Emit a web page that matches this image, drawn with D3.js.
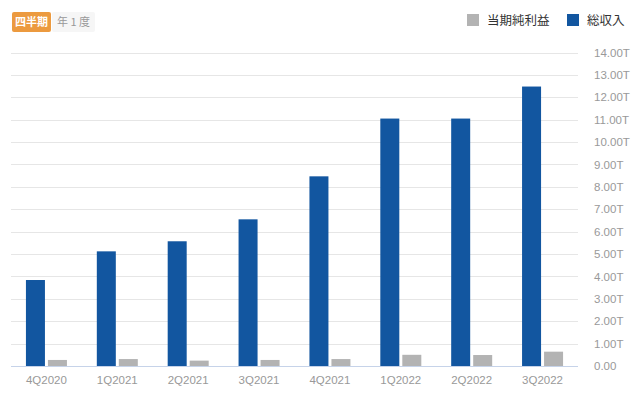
<!DOCTYPE html>
<html><head><meta charset="utf-8">
<script src="https://cdn.jsdelivr.net/npm/d3@7/dist/d3.min.js"></script>
<style>
body{margin:0;background:#fff;font-family:"Liberation Sans",Arial,"Noto Sans CJK JP",sans-serif;}
</style></head>
<body><svg id="c" width="640" height="402"></svg>
<script>
const categories = ["4Q2020","1Q2021","2Q2021","3Q2021","4Q2021","1Q2022","2Q2022","3Q2022"];
const revenue = [3.84, 5.12, 5.57, 6.55, 8.47, 11.05, 11.05, 12.48];
const netIncome = [0.27, 0.31, 0.24, 0.27, 0.31, 0.50, 0.49, 0.64];
const yTicks = [0,1,2,3,4,5,6,7,8,9,10,11,12,13,14];
const seriesNames = ["当期純利益","総収入"];
const tabs = ["四半期","年 1 度"];

const svg = d3.select("#c");
const mLeft = 11, mRight = 578, mTop = 52.5, mBottom = 366;
const x = d3.scaleBand().domain(categories).range([mLeft, mRight]).paddingInner(0).paddingOuter(0);
const y = d3.scaleLinear().domain([0, 14]).range([mBottom, mTop]);
const bw = 19, gap = 3;
const colors = {rev:"#1256a0", net:"#b3b3b3"};
const jp = '"Noto Sans CJK JP","Liberation Sans",sans-serif';

// gridlines
svg.append("g").selectAll("line").data(yTicks.filter(d=>d>0)).join("line")
  .attr("x1", mLeft).attr("x2", mRight)
  .attr("y1", d=>Math.round(y(d))+0.5).attr("y2", d=>Math.round(y(d))+0.5)
  .attr("stroke", "#e6e6e6").attr("stroke-width", 1);

// y axis labels (right)
const yAxis = d3.axisRight(y).tickValues(yTicks).tickSize(0).tickPadding(0)
  .tickFormat(d => d === 0 ? "0.00" : d.toFixed(2) + "T");
const ya = svg.append("g").attr("transform", `translate(594,0)`).call(yAxis);
ya.select(".domain").remove();
ya.selectAll("text").attr("fill", "#999").attr("font-size", 11.5)
  .attr("font-family", '"Liberation Sans",Arial,sans-serif');

// bars
const cx = d => x(d) + x.bandwidth()/2;
svg.append("g").selectAll("rect").data(categories).join("rect")
  .attr("x", (d,i) => cx(d) - gap/2 - bw)
  .attr("width", bw)
  .attr("y", (d,i) => y(revenue[i]))
  .attr("height", (d,i) => mBottom - y(revenue[i]))
  .attr("fill", colors.rev);
svg.append("g").selectAll("rect").data(categories).join("rect")
  .attr("x", (d,i) => cx(d) + gap/2)
  .attr("width", bw)
  .attr("y", (d,i) => y(netIncome[i]))
  .attr("height", (d,i) => mBottom - y(netIncome[i]))
  .attr("fill", colors.net);

// baseline
svg.append("line").attr("x1", mLeft).attr("x2", mRight)
  .attr("y1", mBottom+0.5).attr("y2", mBottom+0.5)
  .attr("stroke", "#c6d3e9").attr("stroke-width", 1);

// x axis labels
const xAxis = d3.axisBottom(x).tickSize(0).tickPadding(0);
const xa = svg.append("g").attr("transform", `translate(0,${mBottom+10})`).call(xAxis);
xa.select(".domain").remove();
xa.selectAll("text").attr("fill", "#999").attr("font-size", 11.5)
  .attr("font-family", '"Liberation Sans",Arial,sans-serif');

// tabs
const tg = svg.append("g");
tg.append("rect").attr("x", 12).attr("y", 12).attr("width", 39).attr("height", 20).attr("rx", 2)
  .attr("fill", "#ec9a3f");
tg.append("text").attr("x", 31.5).attr("y", 26).attr("text-anchor","middle")
  .attr("fill","#fff").attr("font-size", 11).attr("font-family", jp).attr("font-weight", "bold").text(tabs[0]);
tg.append("rect").attr("x", 52).attr("y", 12).attr("width", 43).attr("height", 20).attr("rx", 2)
  .attr("fill", "#f6f6f6");
tg.append("text").attr("x", 73.5).attr("y", 26).attr("text-anchor","middle")
  .attr("fill","#999").attr("font-size", 11).attr("font-family", jp).text(tabs[1]);

// legend
const lg = svg.append("g");
const legendItems = [
  {name: seriesNames[0], color: colors.net, x: 467},
  {name: seriesNames[1], color: colors.rev, x: 567}
];
legendItems.forEach(it => {
  lg.append("rect").attr("x", it.x).attr("y", 14).attr("width", 12).attr("height", 12).attr("fill", it.color);
  lg.append("text").attr("x", it.x + 20).attr("y", 25).attr("fill", "#333")
    .attr("font-size", 12.5).attr("font-family", jp).text(it.name);
});
</script></body></html>
